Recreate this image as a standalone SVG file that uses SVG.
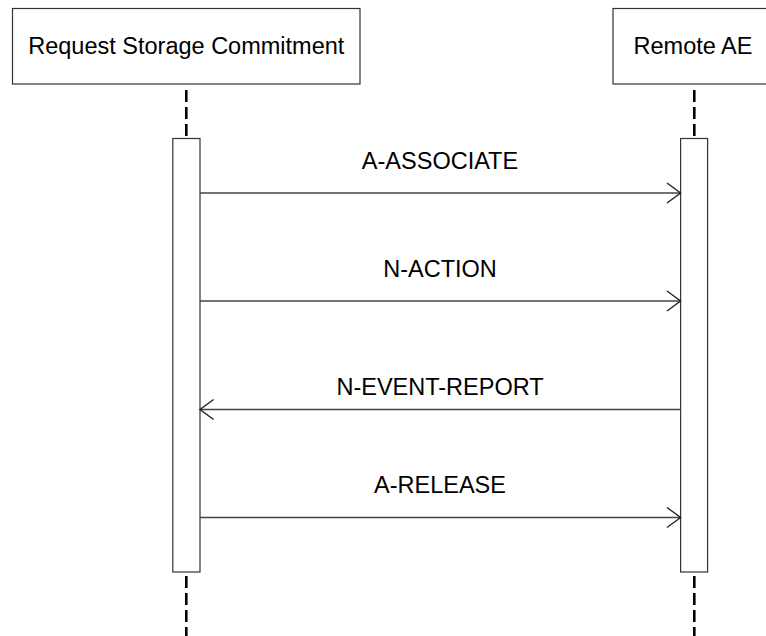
<svg xmlns="http://www.w3.org/2000/svg" width="766" height="636" viewBox="0 0 766 636">
<style>
.box{fill:#fff;stroke:#333;stroke-width:1.2}
.act{fill:#fff;stroke:#333;stroke-width:1.2}
.life{stroke:#000;stroke-width:2.6;stroke-dasharray:12 5;fill:none}
.msg{stroke:#444;stroke-width:1.6;fill:none}
.head{stroke:#222;stroke-width:1.4;fill:none}
text{font-family:"Liberation Sans",Arial,sans-serif;font-size:23.5px;fill:#000;text-anchor:middle}
</style>
<rect width="766" height="636" fill="#fff"/>
<g id="lifelines">
<line class="life" x1="186.3" y1="90" x2="186.3" y2="138"/>
<line class="life" x1="186.3" y1="576" x2="186.3" y2="636"/>
<line class="life" x1="694.3" y1="90" x2="694.3" y2="138"/>
<line class="life" x1="694.3" y1="576" x2="694.3" y2="636"/>
</g>
<g id="node-request">
<rect class="box" x="12.5" y="8.5" width="347.5" height="75.5"/>
<text x="186.3" y="54">Request Storage Commitment</text>
</g>
<g id="node-remote">
<rect class="box" x="613" y="8.5" width="200" height="75.5"/>
<text x="693" y="54">Remote AE</text>
</g>
<g id="activation-request">
<rect class="act" x="172.8" y="138.5" width="27.2" height="433.5"/>
</g>
<g id="activation-remote">
<rect class="act" x="680.6" y="138.5" width="27" height="433.5"/>
</g>
<g id="connectors">
<line class="msg" x1="200" y1="193" x2="680.6" y2="193"/>
<path class="head" d="M667 183 L680.6 193 L667 203"/>
<text x="440" y="169">A-ASSOCIATE</text>
<line class="msg" x1="200" y1="301" x2="680.6" y2="301"/>
<path class="head" d="M667 291 L680.6 301 L667 311"/>
<text x="440" y="277">N-ACTION</text>
<line class="msg" x1="200" y1="409.5" x2="680.6" y2="409.5"/>
<path class="head" d="M213.6 399.5 L200 409.5 L213.6 419.5"/>
<text x="440" y="395">N-EVENT-REPORT</text>
<line class="msg" x1="200" y1="517.5" x2="680.6" y2="517.5"/>
<path class="head" d="M667 507.5 L680.6 517.5 L667 527.5"/>
<text x="440" y="493">A-RELEASE</text>
</g>
</svg>
